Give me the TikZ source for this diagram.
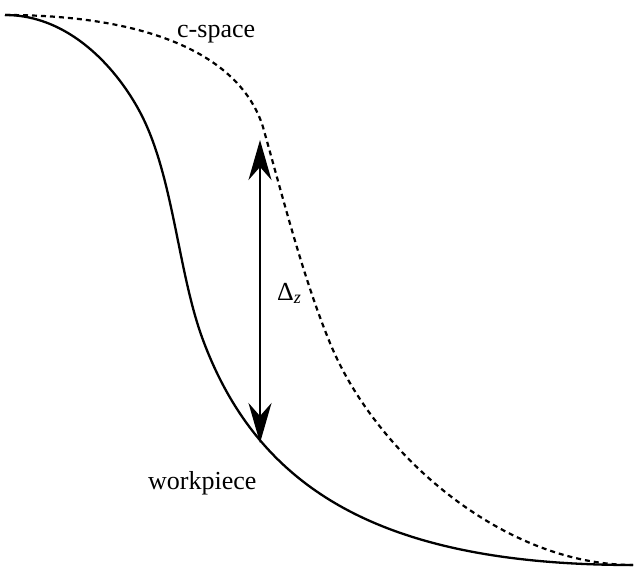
\documentclass[tikz,border=0pt]{standalone}
\usepackage{fontspec}
\setmainfont{Liberation Serif}
\usetikzlibrary{arrows.meta}
\tikzset{
  curve/.style={line width=2.3pt, line cap=butt, line join=round},
  cspace/.style={line width=2.2pt, dash pattern=on 5pt off 4pt},
  dimarrow/.style={line width=2.5pt, {Stealth[length=40pt,width=23pt,inset=13pt]}-{Stealth[length=40pt,width=23pt,inset=13pt]}},
  lbl/.style={inner sep=0pt, font=\fontsize{26}{30}\selectfont, anchor=base west}
}
\begin{document}
\begin{tikzpicture}[x=1pt,y=-1pt]
\useasboundingbox (0,0) rectangle (635,566);
% workpiece profile
\draw[curve] (5,15) .. controls (75,15) and (123.2,77.5) .. (143,118)
  .. controls (173.8,181) and (178.5,274.2) .. (203,340)
  .. controls (259,490.4) and (383,565) .. (633,565);
% c-space profile
\draw[cspace] (5,15) .. controls (150,15) and (240.5,55.75) .. (263,127)
  .. controls (284.6,203.8) and (303.4,278.3) .. (330,343)
  .. controls (375.6,454) and (503,565) .. (633,565);
\coordinate (top) at (260,140);
\coordinate (bot) at (260,443);
\draw[dimarrow] (top) -- (bot);
\node[lbl] (dz) at (277,300) {Δ\textsubscript{\textit{z}}};
\node[lbl] (cs) at (177,37) {c-space};
\node[lbl] (wp) at (148,489) {workpiece};
\end{tikzpicture}
\end{document}
